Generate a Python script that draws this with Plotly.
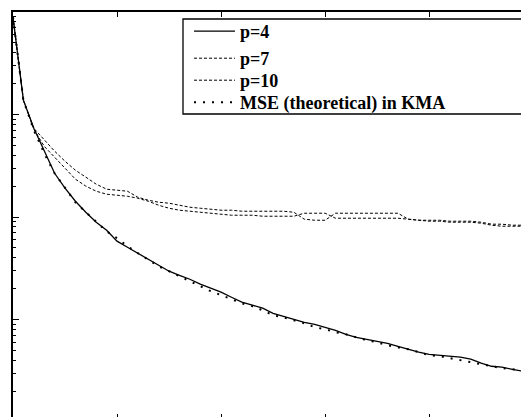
import plotly.graph_objects as go

# iteration index (x axis)
iterations = list(range(51))

# MSE curves
mse_p4 = [0.890, 0.138, 0.0735, 0.0439, 0.0267, 0.0191, 0.01426, 0.01114, 0.00889, 0.00743,
          0.00581, 0.00507, 0.00444, 0.00387, 0.00339, 0.00296, 0.00270, 0.00247, 0.00221, 0.00202,
          0.00185, 0.00165, 0.00148, 0.00138, 0.00129, 0.00115, 0.00108, 0.00101, 0.000940, 0.000899,
          0.000839, 0.000785, 0.000718, 0.000671, 0.000641, 0.000614, 0.000586, 0.000548, 0.000513, 0.000480,
          0.000458, 0.000448, 0.000439, 0.000429, 0.000410, 0.000375, 0.000350, 0.000343, 0.000327, 0.000313,
          0.000299]

mse_p7 = [0.890, 0.1378, 0.0733, 0.0562, 0.0439, 0.0350, 0.0286, 0.0245, 0.0209, 0.01867,
          0.01826, 0.01785, 0.01560, 0.01458, 0.01394, 0.01363, 0.01303, 0.01246, 0.01218, 0.01191,
          0.01165, 0.01165, 0.01139, 0.01139, 0.01139, 0.01139, 0.01139, 0.01113, 0.00952, 0.00930,
          0.00930, 0.01089, 0.01089, 0.01089, 0.01089, 0.01089, 0.01089, 0.01089, 0.00952, 0.00930,
          0.00930, 0.00930, 0.00910, 0.00910, 0.00910, 0.00890, 0.00851, 0.00851, 0.00832, 0.00832,
          0.00832]

mse_p10 = [0.890, 0.1378, 0.0719, 0.0490, 0.0383, 0.0299, 0.0234, 0.0200, 0.01785, 0.01669,
           0.01632, 0.01595, 0.01525, 0.01426, 0.01303, 0.01218, 0.01165, 0.01139, 0.01113, 0.01089,
           0.01065, 0.01041, 0.01041, 0.01041, 0.01018, 0.01018, 0.01018, 0.01018, 0.01089, 0.01089,
           0.01089, 0.00973, 0.00973, 0.00973, 0.00973, 0.00973, 0.00973, 0.00973, 0.00952, 0.00930,
           0.00910, 0.00910, 0.00890, 0.00890, 0.00890, 0.00870, 0.00832, 0.00813, 0.00813, 0.00813,
           0.00813]

mse_theory = [0.890, 0.138, 0.0703, 0.0419, 0.0267, 0.0191, 0.01394, 0.01114, 0.00889, 0.00726,
              0.00621, 0.00519, 0.00444, 0.00387, 0.00331, 0.00296, 0.00264, 0.00237, 0.00211, 0.00189,
              0.00173, 0.00158, 0.00144, 0.00135, 0.00123, 0.00110, 0.00105, 0.000984, 0.000920, 0.000841,
              0.000804, 0.000752, 0.000719, 0.000671, 0.000628, 0.000600, 0.000561, 0.000536, 0.000513, 0.000480,
              0.000449, 0.000439, 0.000419, 0.000401, 0.000383, 0.000366, 0.000350, 0.000335, 0.000327, 0.000320,
              0.000306]

names = ["p=4", "p=7", "p=10", "MSE (theoretical) in KMA"]
x_ticks = [10, 20, 30, 40]
x_range = [0, 49.6]
y_log_range = [-3.951, 0]

# page body has an 8px margin: figure is sized so the plot area fills the window
W, H = 521, 409
ML, MT = 5, 4
PW, PH = W - ML, H - MT


def px_x(sx):
    return (sx - 13) / PW


def px_y(sy):
    return 1 - (sy - 12) / PH


fig = go.Figure()
fig.add_trace(go.Scatter(x=iterations, y=mse_p4, name=names[0], mode="lines", legend="legend",
                         line=dict(color="black", width=1.3)))
fig.add_trace(go.Scatter(x=iterations, y=mse_p7, name=names[1], mode="lines", legend="legend2",
                         line=dict(color="black", width=1, dash="3px,2px")))
fig.add_trace(go.Scatter(x=iterations, y=mse_p10, name=names[2], mode="lines", legend="legend3",
                         line=dict(color="black", width=1, dash="3px,2px")))
fig.add_trace(go.Scatter(x=iterations, y=mse_theory, name=names[3], mode="lines", legend="legend4",
                         line=dict(color="black", width=2, dash="2px,7px")))
# helper trace for the mirrored (bottom / right) tick axes
fig.add_trace(go.Scatter(x=[None], y=[None], xaxis="x2", yaxis="y2",
                         showlegend=False, hoverinfo="skip"))

legend_font = dict(family="Liberation Serif, Times New Roman, serif", size=18,
                   color="black", weight="bold")
row_tops = [13, 40, 62, 84]
legends = {}
for i, key in enumerate(["legend", "legend2", "legend3", "legend4"]):
    legends[key] = dict(x=px_x(189), y=px_y(row_tops[i]), xanchor="left", yanchor="top",
                        bgcolor="rgba(0,0,0,0)", borderwidth=0, itemwidth=41,
                        font=legend_font)

fig.update_layout(
    width=W, height=H,
    margin=dict(l=ML, r=0, t=MT, b=0),
    paper_bgcolor="white", plot_bgcolor="white",
    showlegend=True,
    xaxis=dict(range=x_range, side="top", showline=True, linecolor="black", linewidth=1.6,
               ticks="inside", ticklen=5, tickcolor="black", tickvals=x_ticks,
               showticklabels=False, showgrid=False, zeroline=False),
    xaxis2=dict(range=x_range, overlaying="x", side="bottom", showline=False,
                ticks="inside", ticklen=3, tickcolor="black", tickvals=x_ticks,
                showticklabels=False, showgrid=False, zeroline=False),
    yaxis=dict(type="log", range=y_log_range, side="left", showline=True, linecolor="black",
               linewidth=1.6, ticks="inside", ticklen=6, tickcolor="black",
               tickmode="linear", tick0=0, dtick=1, showticklabels=False,
               showgrid=False, zeroline=False,
               minor=dict(ticks="inside", ticklen=3, tickcolor="black", dtick="D1", showgrid=False)),
    yaxis2=dict(type="log", range=y_log_range, overlaying="y", side="right", showline=False,
                ticks="inside", ticklen=2, tickcolor="black", tickmode="linear", tick0=0, dtick=1,
                showticklabels=False, showgrid=False, zeroline=False),
    shapes=[dict(type="rect", xref="paper", yref="paper",
                 x0=px_x(183), x1=px_x(523), y0=px_y(114), y1=px_y(19),
                 line=dict(color="black", width=1.3), fillcolor="white", layer="above")],
    **legends,
)

fig.write_html("out.html")
